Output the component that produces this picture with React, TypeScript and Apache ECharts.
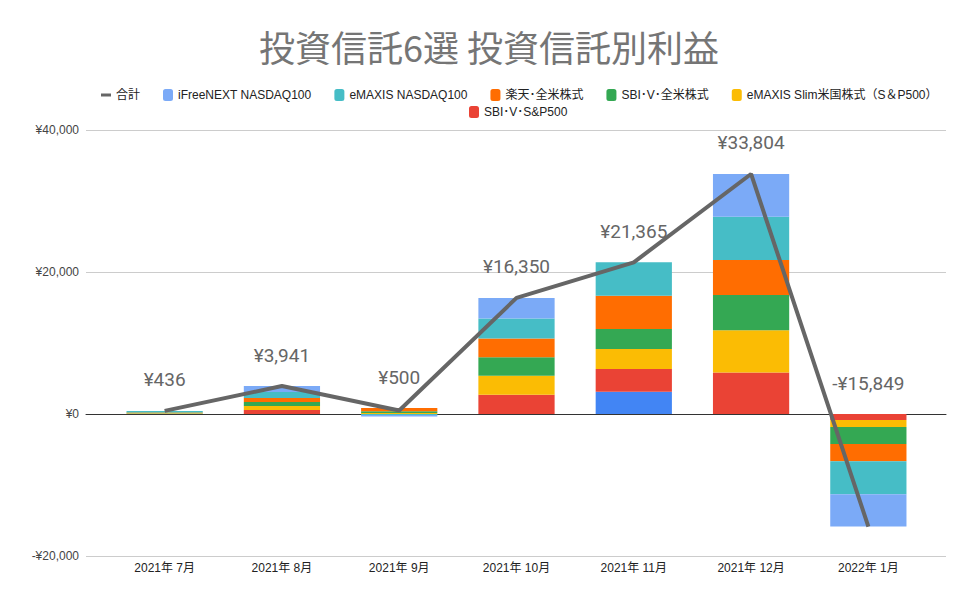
import React, { useEffect, useRef } from "react";
import * as echarts from "echarts";

const categories = ["2021年 7月", "2021年 8月", "2021年 9月", "2021年 10月", "2021年 11月", "2021年 12月", "2022年 1月"];
const blueSeries = [0, 0, 0, 0, 3141, 0, 0];
const sbiSP500 = [30, 562, 0, 2700, 3197, 5850, -850];
const slimSP500 = [60, 563, 150, 2700, 2817, 5950, -993];
const sbiAll = [130, 563, 250, 2600, 2817, 4950, -2370];
const rakutenAll = [20, 563, 445, 2650, 4690, 4950, -2455];
const emaxisNasdaq = [196, 845, -145, 2800, 4704, 6080, -4640];
const ifreeNasdaq = [0, 845, -200, 2900, 0, 6024, -4541];
const totals = [436, 3941, 500, 16350, 21365, 33804, -15849];
const yTicks = [-20000, 0, 20000, 40000];

const barDefs = [
  { name: "", data: blueSeries, color: "#4285F4" },
  { name: "SBI･V･S&P500", data: sbiSP500, color: "#EA4335" },
  { name: "eMAXIS Slim米国株式（S＆P500）", data: slimSP500, color: "#FBBC04" },
  { name: "SBI･V･全米株式", data: sbiAll, color: "#34A853" },
  { name: "楽天･全米株式", data: rakutenAll, color: "#FF6D01" },
  { name: "eMAXIS NASDAQ100", data: emaxisNasdaq, color: "#46BDC6" },
  { name: "iFreeNEXT NASDAQ100", data: ifreeNasdaq, color: "#7BAAF7" },
];

const yen = (v: number) => (v < 0 ? "-" : "") + "¥" + Math.abs(v).toLocaleString("en-US");

export default function App() {
  const ref = useRef<HTMLDivElement>(null);
  useEffect(() => {
    if (!ref.current) return;
    const chart = echarts.init(ref.current, undefined, { renderer: "svg" });
    const posTop = categories.map((_, i) =>
      barDefs.reduce((s, b) => s + (b.data[i] > 0 ? b.data[i] : 0), 0)
    );
    const axisFont = "'Liberation Sans', Arial, 'Noto Sans CJK JP', sans-serif";
    const named = barDefs.filter((b) => b.name).slice().reverse();
    const legendCommon = {
      itemWidth: 10,
      itemHeight: 12,
      itemGap: 23,
      textStyle: { fontSize: 12, color: "#222", fontFamily: axisFont },
    };
    const option: any = {
      animation: false,
      backgroundColor: "#ffffff",
      title: {
        text: "投資信託6選 投資信託別利益",
        left: "center",
        top: 23,
        textStyle: { fontSize: 36, fontWeight: "normal", color: "#757575", fontFamily: "'Noto Sans CJK JP', sans-serif" },
      },
      legend: [
        {
          ...legendCommon,
          left: 96,
          top: 84,
          data: [
            { name: "合計", icon: "path://M0,0 M10,12 M0,4.5 L10,4.5 L10,7.5 L0,7.5 Z" },
            ...named.slice(0, 5).map((b) => ({ name: b.name, icon: "roundRect" })),
          ],
        },
        {
          ...legendCommon,
          left: 464,
          top: 101,
          data: named.slice(5).map((b) => ({ name: b.name, icon: "roundRect" })),
        },
      ],
      grid: [
        { left: 86, right: 32, top: 130, bottom: 50 },
        { left: 106, right: 51, top: 130, bottom: 50 },
      ],
      xAxis: [
        {
          type: "category",
          gridIndex: 0,
          data: categories,
          axisLine: { lineStyle: { color: "#333", width: 1 } },
          axisTick: { show: false },
          axisLabel: { show: false },
        },
        {
          type: "category",
          gridIndex: 1,
          data: categories,
          axisLine: { show: false },
          axisTick: { show: false },
          axisLabel: { color: "#222", fontSize: 12, fontFamily: axisFont, margin: 6 },
        },
      ],
      yAxis: [
        {
          type: "value",
          gridIndex: 0,
          min: yTicks[0],
          max: yTicks[yTicks.length - 1],
          interval: 20000,
          axisLine: { show: false },
          axisTick: { show: false },
          splitLine: { lineStyle: { color: "#cccccc" } },
          axisLabel: { color: "#444", fontSize: 12, fontFamily: axisFont, margin: 7, formatter: (v: number) => yen(v) },
        },
        {
          type: "value",
          gridIndex: 1,
          min: yTicks[0],
          max: yTicks[yTicks.length - 1],
          interval: 20000,
          axisLine: { show: false },
          axisTick: { show: false },
          splitLine: { show: false },
          axisLabel: { show: false },
        },
      ],
      series: [
        ...barDefs.map((b) => ({
          name: b.name,
          type: "bar",
          stack: "total",
          xAxisIndex: 1,
          yAxisIndex: 1,
          barWidth: "65%",
          data: b.data,
          itemStyle: { color: b.color },
        })),
        {
          name: "合計",
          type: "line",
          xAxisIndex: 1,
          yAxisIndex: 1,
          data: totals,
          symbol: "none",
          showSymbol: false,
          z: 5,
          lineStyle: { color: "#666666", width: 4 },
          itemStyle: { color: "#666666" },
        },
        {
          name: "labels",
          type: "custom",
          xAxisIndex: 1,
          yAxisIndex: 1,
          silent: true,
          z: 6,
          data: categories.map((_, i) => [i, posTop[i], totals[i]]),
          renderItem: (params: any, api: any) => {
            const c = api.coord([api.value(0), api.value(1)]);
            return {
              type: "text",
              x: c[0],
              y: c[1] - 31,
              style: {
                text: yen(api.value(2)),
                fontSize: 19,
                fill: "#666666",
                fontFamily: "Roboto, 'Noto Sans CJK JP', sans-serif",
                align: "center",
                verticalAlign: "middle",
              },
            };
          },
        },
      ],
    };
    chart.setOption(option);
    return () => chart.dispose();
  }, []);
  return <div ref={ref} style={{ width: 978, height: 606, position: "absolute", left: 0, top: 0 }} />;
}
